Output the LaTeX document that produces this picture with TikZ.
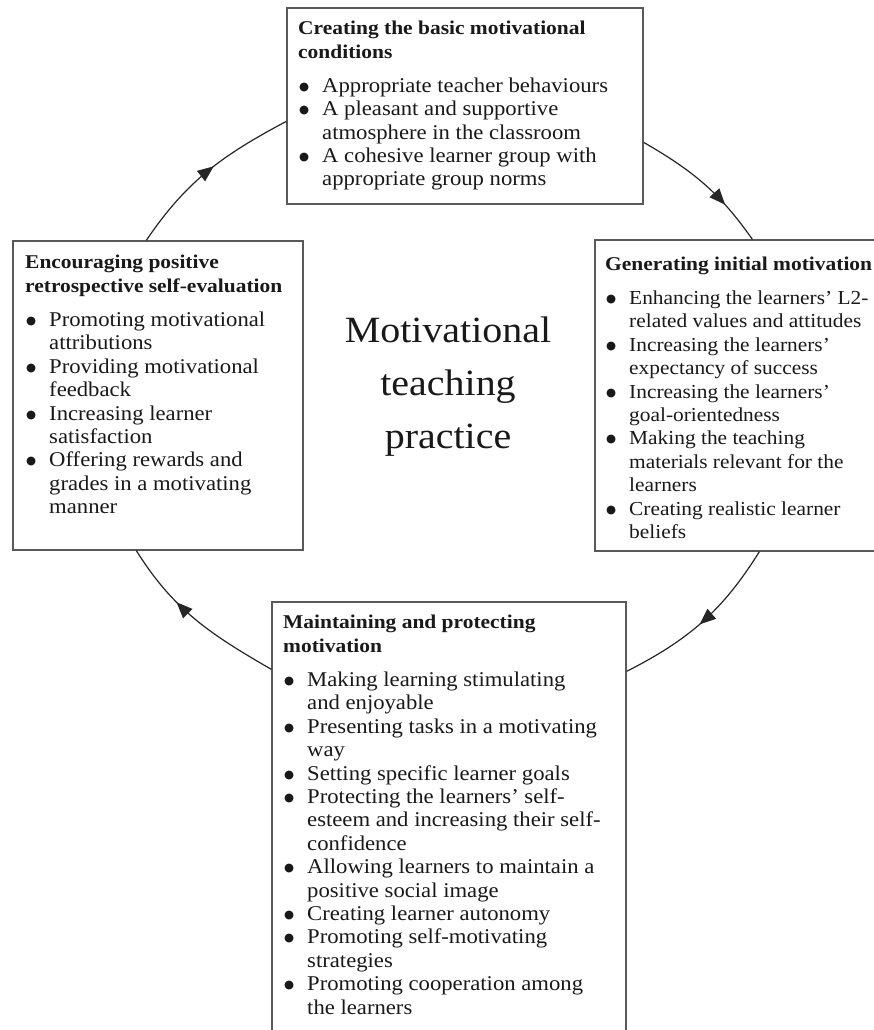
\documentclass[tikz,border=0pt]{standalone}
\usepackage{fontspec}
\setmainfont[FakeStretch=1.08]{Liberation Serif}
\newfontfamily\headfam[FakeStretch=1.1]{Liberation Serif}
\newfontfamily\symfam{DejaVu Sans}
\usetikzlibrary{arrows.meta,decorations.markings,calc}
\newcommand\bul{\makebox[24pt][l]{\hspace{1pt}\raisebox{2pt}{\symfam\fontsize{11.5}{0}\selectfont ●}}}
\newcommand\cnt{\hspace*{24pt}}
\newcommand\headfont{\headfam\fontsize{19.5}{24}\selectfont\bfseries}
\newcommand\bodyfont{\fontsize{21}{23.4}\selectfont\mdseries}
\newcommand\rbodyfont{\fontsize{19.8}{23.4}\selectfont\mdseries}
\begin{document}
\begin{tikzpicture}[x=1pt,y=1pt,
  box/.style={draw=black!65, line width=1.3pt, inner sep=0pt, fill=none},
  txt/.style={inner sep=0pt, anchor=base west, text=black!90},
  conn/.style={draw=black!85, line width=1.2pt},
  midarrow/.style={postaction={decorate}, decoration={markings,
      mark=at position #1 with {\arrow{Triangle[length=16pt,width=13pt]}}}}]
\useasboundingbox (0,0) rectangle (874,-1030);
\clip (0,0) rectangle (874,-1030);
\fill[white] (0,0) rectangle (874,-1030);

% boxes
\node[box, minimum width=356pt, minimum height=196pt] (T) at (465,-106) {};
\node[box, minimum width=315pt, minimum height=311pt] (R) at (752.5,-395.5) {};
\node[box, minimum width=290pt, minimum height=309pt] (L) at (158,-395.5) {};
\node[box, minimum width=354pt, minimum height=448pt] (B) at (449,-826) {};

% texts
\node[txt] (Tt) at (298,-35) {\parbox[t]{420pt}{\raggedright
  {\headfont Creating the basic motivational\\conditions\par}
  \vspace{10pt}
  {\bodyfont
  \bul Appropriate teacher behaviours\\
  \bul A pleasant and supportive\\
  \cnt atmosphere in the classroom\\
  \bul A cohesive learner group with\\
  \cnt appropriate group norms\par}}};

\node[txt] (Rt) at (605,-270) {\parbox[t]{420pt}{\raggedright
  {\headfont Generating initial motivation\par}
  \vspace{11pt}
  {\rbodyfont
  \bul Enhancing the learners’ L2-\\
  \cnt related values and attitudes\\
  \bul Increasing the learners’\\
  \cnt expectancy of success\\
  \bul Increasing the learners’\\
  \cnt goal-orientedness\\
  \bul Making the teaching\\
  \cnt materials relevant for the\\
  \cnt learners\\
  \bul Creating realistic learner\\
  \cnt beliefs\par}}};

\node[txt] (Lt) at (25,-268) {\parbox[t]{420pt}{\raggedright
  {\headfont Encouraging positive\\retrospective self-evaluation\par}
  \vspace{11pt}
  {\bodyfont
  \bul Promoting motivational\\
  \cnt attributions\\
  \bul Providing motivational\\
  \cnt feedback\\
  \bul Increasing learner\\
  \cnt satisfaction\\
  \bul Offering rewards and\\
  \cnt grades in a motivating\\
  \cnt manner\par}}};

\node[txt] (Bt) at (283,-628) {\parbox[t]{420pt}{\raggedright
  {\headfont Maintaining and protecting\\motivation\par}
  \vspace{11pt}
  {\bodyfont
  \bul Making learning stimulating\\
  \cnt and enjoyable\\
  \bul Presenting tasks in a motivating\\
  \cnt way\\
  \bul Setting specific learner goals\\
  \bul Protecting the learners’ self-\\
  \cnt esteem and increasing their self-\\
  \cnt confidence\\
  \bul Allowing learners to maintain a\\
  \cnt positive social image\\
  \bul Creating learner autonomy\\
  \bul Promoting self-motivating\\
  \cnt strategies\\
  \bul Promoting cooperation among\\
  \cnt the learners\par}}};

% centre title
\node[inner sep=0pt, anchor=base, text=black!90] (C) at (448,-342)
  {\parbox[t]{320pt}{\centering\fontsize{37}{53}\selectfont
   Motivational\\teaching\\practice}};

% connector end points
\coordinate (a1) at ([xshift=134pt]L.north west);
\coordinate (b1) at ([yshift=-114pt]T.north west);
\coordinate (a2) at ([yshift=-135pt]T.north east);
\coordinate (b2) at ([xshift=158pt]R.north west);
\coordinate (a3) at ([xshift=165pt]R.south west);
\coordinate (b3) at ([yshift=-70pt]B.north east);
\coordinate (a4) at ([yshift=-68pt]B.north west);
\coordinate (b4) at ([xshift=124pt]L.south west);

\draw[conn, midarrow=0.54] (a1) to[out=56,in=208] (b1);
\draw[conn, midarrow=0.7] (a2) to[out=-30,in=125] (b2);
\draw[conn, midarrow=0.52] (a3) to[out=238,in=27] (b3);
\draw[conn, midarrow=0.64] (a4) to[out=150,in=-58] (b4);
\end{tikzpicture}
\end{document}
